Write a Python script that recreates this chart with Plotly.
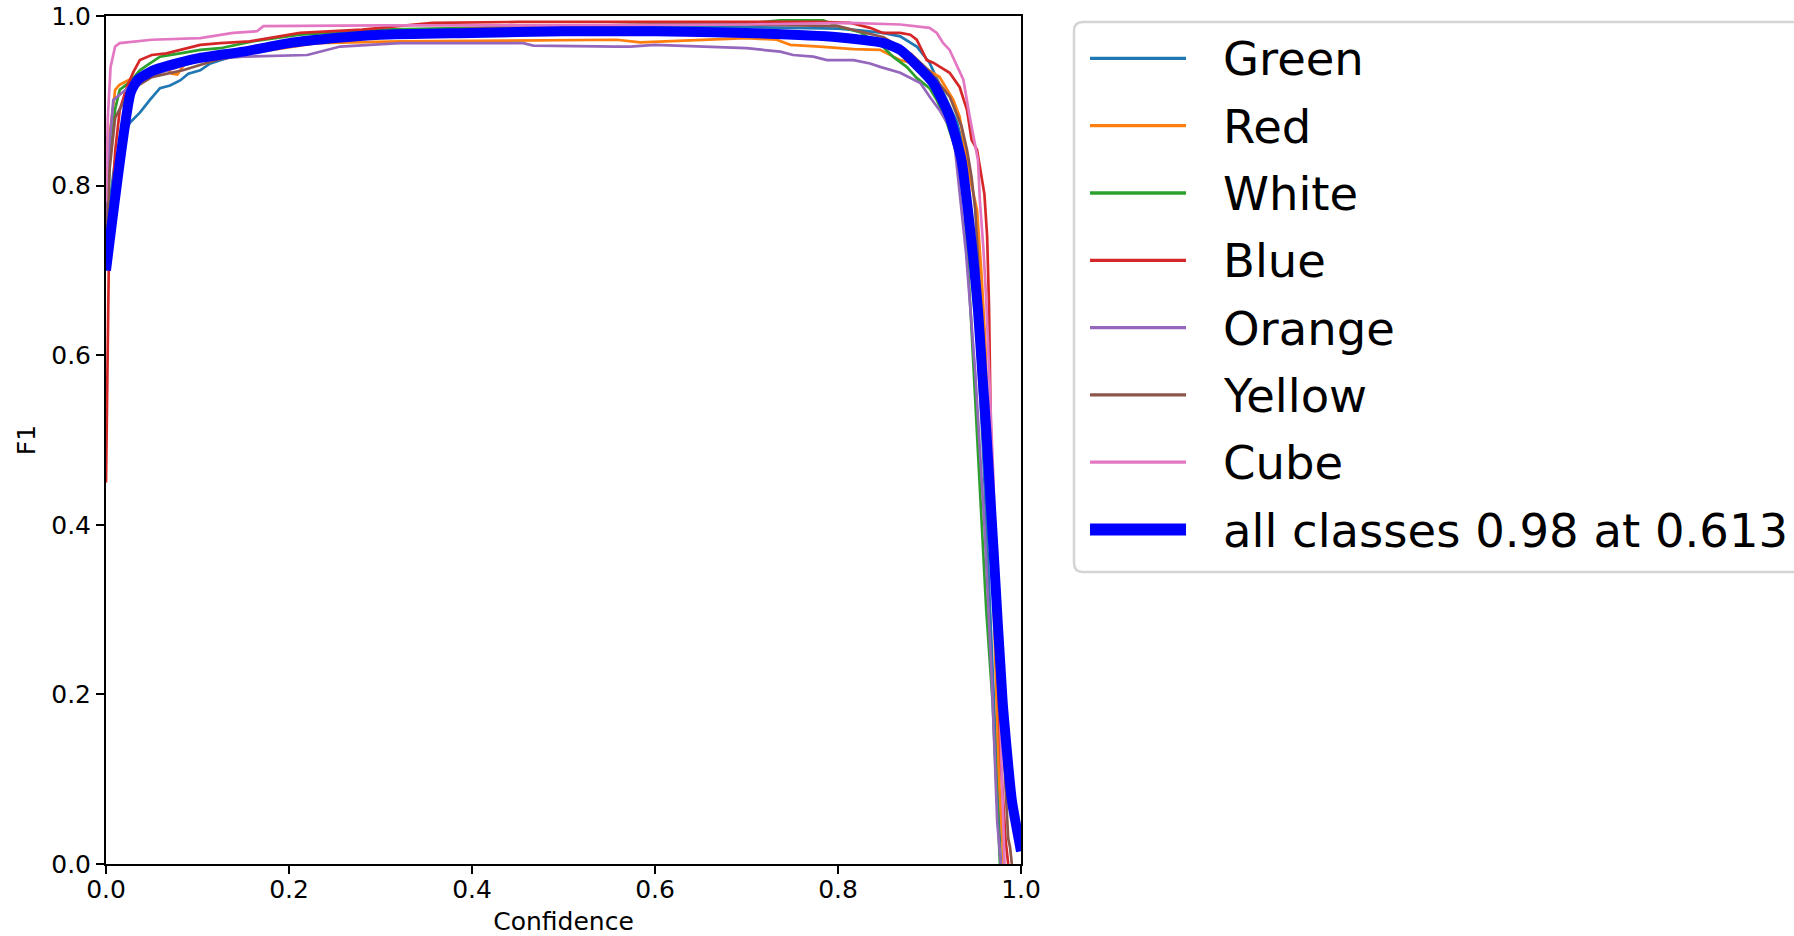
import plotly.graph_objects as go

# ---------------- data ----------------
class_names = ["Green", "Red", "White", "Blue", "Orange", "Yellow", "Cube"]
class_colors = ["#1f77b4", "#ff7f0e", "#2ca02c", "#d62728", "#9467bd", "#8c564b", "#e377c2"]

green_x = [0, 0.004, 0.01, 0.02, 0.026, 0.037, 0.048, 0.059, 0.07, 0.081, 0.09, 0.103, 0.114, 0.125, 0.15, 0.2,
           0.3, 0.4, 0.5, 0.6, 0.7, 0.8, 0.824, 0.849, 0.868, 0.886, 0.90, 0.915, 0.93, 0.936, 0.942, 0.95, 0.958,
           0.965, 0.972, 0.978]
green_y = [0.70, 0.78, 0.83, 0.86, 0.874, 0.886, 0.901, 0.915, 0.918, 0.924, 0.932, 0.936, 0.944, 0.948, 0.956, 0.968,
           0.98, 0.985, 0.988, 0.988, 0.987, 0.985, 0.983, 0.980, 0.976, 0.964, 0.945, 0.91, 0.875, 0.85, 0.78, 0.66,
           0.50, 0.33, 0.15, 0.0]

red_x = [0, 0.004, 0.01, 0.015, 0.026, 0.04, 0.055, 0.066, 0.072, 0.078, 0.085, 0.103, 0.157, 0.23, 0.321, 0.45,
         0.558, 0.584, 0.64, 0.70, 0.733, 0.748, 0.78, 0.817, 0.846, 0.868, 0.89, 0.911, 0.926, 0.933, 0.944, 0.952,
         0.957, 0.961, 0.964, 0.970, 0.976, 0.981]
red_y = [0.75, 0.86, 0.913, 0.919, 0.925, 0.93, 0.934, 0.938, 0.932, 0.931, 0.942, 0.948, 0.956, 0.968, 0.970, 0.971,
         0.972, 0.969, 0.971, 0.974, 0.972, 0.966, 0.964, 0.961, 0.960, 0.948, 0.942, 0.928, 0.901, 0.881, 0.81, 0.771,
         0.692, 0.614, 0.512, 0.3, 0.1, 0.0]

white_x = [0, 0.004, 0.01, 0.015, 0.026, 0.037, 0.048, 0.059, 0.081, 0.103, 0.125, 0.16, 0.212, 0.3, 0.4, 0.5, 0.6,
           0.7, 0.737, 0.784, 0.802, 0.824, 0.849, 0.86, 0.875, 0.886, 0.90, 0.908, 0.919, 0.93, 0.937, 0.945, 0.955,
           0.962, 0.969, 0.975, 0.977]
white_y = [0.72, 0.83, 0.89, 0.913, 0.922, 0.936, 0.944, 0.952, 0.956, 0.960, 0.962, 0.97, 0.978, 0.984, 0.986, 0.988,
           0.99, 0.991, 0.995, 0.995, 0.987, 0.981, 0.964, 0.952, 0.940, 0.927, 0.915, 0.901, 0.874, 0.838, 0.80, 0.65,
           0.45, 0.30, 0.19, 0.05, 0.0]

blue_x = [0, 0.001, 0.003, 0.01, 0.015, 0.023, 0.030, 0.037, 0.05, 0.066, 0.081, 0.103, 0.125, 0.157, 0.212, 0.28,
          0.357, 0.45, 0.6, 0.7, 0.78, 0.813, 0.835, 0.849, 0.868, 0.879, 0.886, 0.897, 0.904, 0.922, 0.933, 0.941,
          0.946, 0.952, 0.957, 0.960, 0.963, 0.965, 0.967, 0.972, 0.978, 0.983, 0.986]
blue_y = [0.45, 0.55, 0.70, 0.84, 0.889, 0.917, 0.934, 0.948, 0.954, 0.956, 0.960, 0.966, 0.968, 0.970, 0.980, 0.984,
          0.992, 0.993, 0.993, 0.993, 0.993, 0.992, 0.986, 0.980, 0.980, 0.978, 0.972, 0.948, 0.945, 0.933, 0.916,
          0.889, 0.854, 0.842, 0.81, 0.79, 0.74, 0.66, 0.51, 0.30, 0.12, 0.03, 0.0]

orange_x = [0, 0.004, 0.008, 0.026, 0.05, 0.08, 0.103, 0.15, 0.22, 0.256, 0.321, 0.456, 0.467, 0.558, 0.573, 0.6,
            0.7, 0.737, 0.751, 0.773, 0.788, 0.817, 0.835, 0.846, 0.868, 0.89, 0.90, 0.911, 0.922, 0.928, 0.931,
            0.94, 0.95, 0.96, 0.968, 0.974, 0.978]
orange_y = [0.73, 0.85, 0.901, 0.917, 0.93, 0.94, 0.948, 0.952, 0.954, 0.964, 0.968, 0.968, 0.965, 0.964, 0.964,
            0.966, 0.962, 0.958, 0.954, 0.952, 0.948, 0.948, 0.944, 0.940, 0.933, 0.921, 0.905, 0.889, 0.869, 0.842,
            0.81, 0.72, 0.58, 0.40, 0.22, 0.05, 0.0]

yellow_x = [0, 0.004, 0.01, 0.026, 0.05, 0.084, 0.12, 0.2, 0.3, 0.4, 0.5, 0.6, 0.7, 0.8, 0.85, 0.88, 0.9, 0.922,
            0.935, 0.941, 0.946, 0.95, 0.958, 0.966, 0.974, 0.982, 0.986, 0.988, 0.99]
yellow_y = [0.71, 0.82, 0.88, 0.912, 0.928, 0.936, 0.948, 0.965, 0.978, 0.985, 0.988, 0.99, 0.99, 0.988, 0.975,
            0.955, 0.935, 0.905, 0.87, 0.842, 0.81, 0.771, 0.62, 0.45, 0.28, 0.10, 0.03, 0.02, 0.0]

cube_x = [0, 0.002, 0.005, 0.01, 0.015, 0.05, 0.103, 0.125, 0.139, 0.165, 0.172, 0.3, 0.5, 0.7, 0.813, 0.868, 0.90,
          0.908, 0.915, 0.922, 0.933, 0.937, 0.944, 0.953, 0.955, 0.959, 0.962, 0.966, 0.970, 0.975, 0.982]
cube_y = [0.78, 0.88, 0.94, 0.964, 0.968, 0.972, 0.974, 0.978, 0.980, 0.982, 0.988, 0.989, 0.989, 0.99, 0.992, 0.99,
          0.986, 0.98, 0.968, 0.96, 0.933, 0.925, 0.881, 0.83, 0.783, 0.724, 0.665, 0.56, 0.45, 0.25, 0.0]

all_name = "all classes 0.98 at 0.613"
all_color = "#0000ff"
all_x = [0, 0.027, 0.035, 0.05, 0.07, 0.1, 0.15, 0.2, 0.25, 0.3, 0.4, 0.5, 0.6, 0.7, 0.8, 0.85, 0.868, 0.904,
         0.922, 0.935, 0.942, 0.948, 0.953, 0.958, 0.962, 0.97, 0.98, 0.99, 1.0]
all_y = [0.70, 0.91, 0.925, 0.935, 0.942, 0.950, 0.958, 0.968, 0.974, 0.978, 0.980, 0.982, 0.982, 0.980, 0.975,
         0.968, 0.960, 0.921, 0.881, 0.830, 0.771, 0.712, 0.653, 0.574, 0.512, 0.37, 0.19, 0.075, 0.015]

xs_list = [green_x, red_x, white_x, blue_x, orange_x, yellow_x, cube_x]
ys_list = [green_y, red_y, white_y, blue_y, orange_y, yellow_y, cube_y]

tick_vals = [0.0, 0.2, 0.4, 0.6, 0.8, 1.0]

# ---------------- figure ----------------
W, H = 1794, 936
L, R, T, B = 106, 1021, 16, 864   # plot area in pixels
PW, PH = R - L, B - T

def px_x(p):
    return (p - L) / PW

def px_y(p):
    return (B - p) / PH

fig = go.Figure()
for name, xs, ys, col in zip(class_names, xs_list, ys_list, class_colors):
    fig.add_trace(go.Scatter(x=xs, y=ys, mode="lines", name=name,
                             line=dict(color=col, width=2.7), showlegend=False))
fig.add_trace(go.Scatter(x=all_x, y=all_y, mode="lines", name=all_name,
                         line=dict(color=all_color, width=10, shape="spline", smoothing=0.5),
                         showlegend=False))

axis_common = dict(range=[0, 1], tickvals=tick_vals, tickformat=".1f", showgrid=False, zeroline=False,
                   showline=True, mirror=True, linecolor="black", linewidth=2,
                   ticks="outside", ticklen=8, tickwidth=2, tickcolor="black",
                   tickfont=dict(size=25, color="black"))

fig.update_layout(
    width=W, height=H,
    margin=dict(l=L, r=W - R, t=T, b=H - B, autoexpand=False),
    plot_bgcolor="white", paper_bgcolor="white",
    font=dict(family="DejaVu Sans", color="black"),
    xaxis=dict(**axis_common, ticklabelstandoff=-6,
               title=dict(text="Confidence", font=dict(size=25), standoff=16)),
    yaxis=dict(**axis_common, title=dict(text="F1", font=dict(size=25), standoff=8)),
    showlegend=False,
)

# ---------------- custom legend (matplotlib style) ----------------
box_l, box_t, box_b, box_r = 1074, 22, 572, 1840
rad = 9
def path_rounded(l, t, r, b, rr):
    def P(x, y):
        return f"{px_x(x)},{px_y(y)}"
    d = (f"M {P(l + rr, t)} L {P(r - rr, t)} Q {P(r, t)} {P(r, t + rr)} "
         f"L {P(r, b - rr)} Q {P(r, b)} {P(r - rr, b)} L {P(l + rr, b)} "
         f"Q {P(l, b)} {P(l, b - rr)} L {P(l, t + rr)} Q {P(l, t)} {P(l + rr, t)} Z")
    return d

fig.add_shape(type="path", xref="paper", yref="paper", path=path_rounded(box_l, box_t, box_r, box_b, rad),
              line=dict(color="#d4d4d4", width=2.5), fillcolor="rgba(255,255,255,0.8)", layer="above")

legend_names = class_names + [all_name]
legend_colors = class_colors + [all_color]
legend_widths = [3.3] * len(class_names) + [12]
row0, row_step = 58.4, 67.3
for i, (nm, col, w) in enumerate(zip(legend_names, legend_colors, legend_widths)):
    yc = row0 + i * row_step
    fig.add_shape(type="line", xref="paper", yref="paper",
                  x0=px_x(1090), x1=px_x(1186), y0=px_y(yc), y1=px_y(yc),
                  line=dict(color=col, width=w), layer="above")
    fig.add_annotation(xref="paper", yref="paper", x=px_x(1221), y=px_y(yc + 1),
                       xanchor="left", yanchor="middle", text=nm, showarrow=False,
                       font=dict(size=46.5, color="black", family="DejaVu Sans"))

fig.write_html("out.html")
